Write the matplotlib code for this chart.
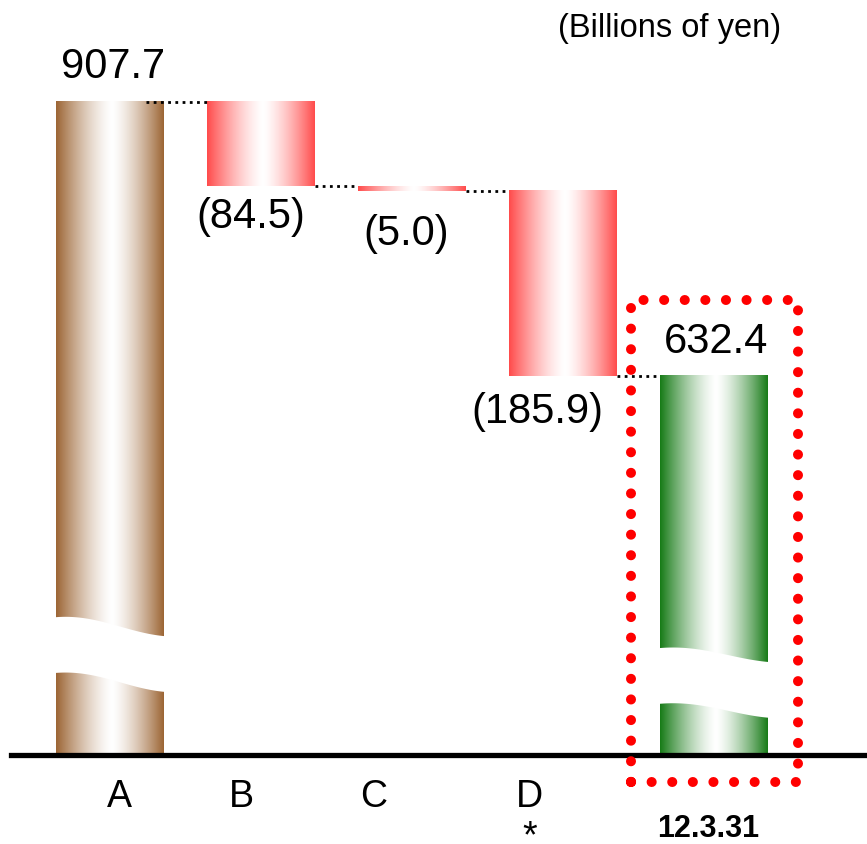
import numpy as np
import matplotlib.pyplot as plt
from matplotlib.patches import Polygon, Rectangle
from matplotlib.colors import to_rgb

plt.rcParams['font.family'] = ['Liberation Sans', 'DejaVu Sans']

# waterfall data (billions of yen)
categories = ['A', 'B', 'C', 'D', '12.3.31']
start_value = 907.7
changes = [-84.5, -5.0, -185.9]
end_value = 632.4
value_labels = ['907.7', '(84.5)', '(5.0)', '(185.9)', '632.4']

# axis floor: the bars are cut off (broken) below this level
floor = 253.6

brown, red, green = '#9c6534', '#ff4b4b', '#177b17'


def gradient(color, n=256, mid=0.52, power=1.4):
    t = np.linspace(0, 1, n)
    d = np.where(t < mid, (mid - t) / mid, (t - mid) / (1 - mid)) ** power
    c = np.array(to_rgb(color))
    rgb = 1 - d[:, None] * (1 - c[None, :])
    return rgb[None, :, :]


def grad_bar(ax, x, bottom, top, color, width=0.71):
    ax.imshow(gradient(color), extent=(x - width / 2, x + width / 2, bottom, top),
              aspect='auto', origin='lower', interpolation='bilinear', zorder=2)


def bar_break(ax, x, y, drop, gap=56, width=0.71):
    # white wavy band across a bar
    t = np.linspace(0, 1, 60)
    xs = x - width / 2 - 0.01 + t * (width + 0.02)
    curve = drop * (0.5 - 0.5 * np.cos(np.pi * t)) - 3 * np.sin(np.pi * t)
    lower = y - curve
    upper = y + gap - curve
    pts = np.concatenate([np.column_stack([xs, lower]),
                          np.column_stack([xs[::-1], upper[::-1]])])
    ax.add_patch(Polygon(pts, closed=True, fc='white', ec='none', zorder=3))


fig = plt.figure(figsize=(8.67, 8.45), dpi=100)
ax = fig.add_axes([0, 0, 1, 1])
ax.set_xlim(-0.728, 5.013)
ax.set_ylim(162.2, 1011.2)
ax.axis('off')

half = 0.355
levels = np.concatenate([[start_value], start_value + np.cumsum(changes)])

# opening bar
grad_bar(ax, 0, floor, start_value, brown)
bar_break(ax, 0, 334, 19)

# decreases
for i, ch in enumerate(changes):
    top = levels[i]
    grad_bar(ax, i + 1, top + ch, top, red)

# closing bar
grad_bar(ax, 4, floor, end_value, green)
bar_break(ax, 4, 303, 14)

# dotted connectors between steps
conn_levels = list(levels[:3]) + [end_value]
for i, lv in enumerate(conn_levels):
    x0 = i + (0.24 if i == 0 else half)
    ax.plot([x0, i + 1 - half], [lv, lv], color='black', lw=2.0,
            ls=(0, (1, 1.6)), zorder=4)

# baseline
ax.axhline(floor - 1.5, xmin=11 / 867, xmax=1, color='black', lw=3.8, zorder=4)

# value labels
fs = 30
ax.annotate(value_labels[0], (0, start_value), xytext=(3, 36), textcoords='offset pixels',
            ha='center', va='center', fontsize=fs)
label_dx = [-10, -6, -26]
label_dy = [-30, -42, -35]
for i, ch in enumerate(changes):
    ax.annotate(value_labels[i + 1], (i + 1, levels[i + 1]), xytext=(label_dx[i], label_dy[i]),
                textcoords='offset pixels', ha='center', va='center', fontsize=fs)
ax.annotate(value_labels[4], (4, end_value), xytext=(2, 35), textcoords='offset pixels',
            ha='center', va='center', fontsize=fs)

# category labels
cat_dx = [0.066, -0.132, -0.252, -0.219]
for i, name in enumerate(categories[:4]):
    ax.annotate(name, (i + cat_dx[i], floor), xytext=(0, -43), textcoords='offset pixels',
                ha='center', va='center', fontsize=27)
ax.annotate('*', (3 + cat_dx[3], floor), xytext=(0, -83), textcoords='offset pixels',
            ha='center', va='center', fontsize=27)
ax.annotate(categories[4], (4 - 0.04, floor), xytext=(0, -75), textcoords='offset pixels',
            ha='center', va='center', fontsize=22, fontweight='bold')

# highlight box around the closing balance
box = Rectangle((3.45, floor - 29), 1.106, end_value + 76 - (floor - 29),
                fill=False, ec='#ff0000', lw=7.2, ls=(0, (0.01, 2.05)),
                capstyle='round', joinstyle='round', zorder=5)
ax.add_patch(box)

fig.text(670 / 867, 1 - 29 / 845, '(Billions of yen)', ha='center', va='center', fontsize=23.5)

fig.savefig('out.png', dpi=100)
